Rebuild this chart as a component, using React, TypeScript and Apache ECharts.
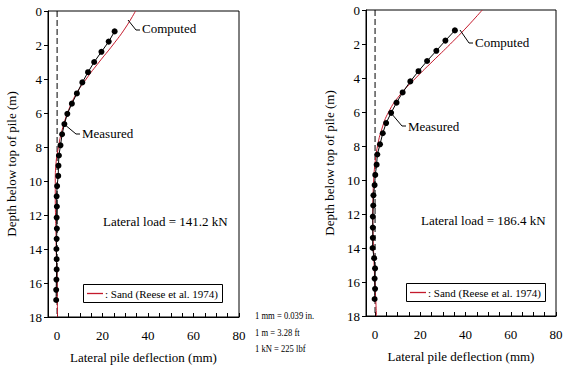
import React, { useEffect, useRef } from "react";
import * as echarts from "echarts";

const FONT = "Liberation Serif";

// Measured depths (m)
const measuredDepths = [1.2, 1.8, 2.4, 3.0, 3.6, 4.2, 4.85, 5.45, 6.05, 6.65, 7.25, 7.9, 8.5, 9.1, 9.7, 10.3, 10.9, 11.5, 12.15, 12.8, 13.4, 14.0, 14.6, 15.2, 15.8, 16.4, 17.0];
// Measured deflections (mm), 141.2 kN
const measuredLeft = [25.3, 22.7, 19.5, 16.3, 13.6, 11.1, 8.7, 6.5, 4.5, 3.2, 2.2, 1.5, 0.8, 0.6, 0.5, 0.0, -0.2, -0.1, -0.2, -0.1, -0.2, -0.3, -0.2, -0.2, -0.3, -0.4, -0.4];
// Measured deflections (mm), 186.4 kN
const measuredRight = [35.3, 31.1, 27.1, 23.0, 19.2, 15.6, 12.2, 9.5, 7.1, 4.9, 3.4, 2.2, 1.0, 0.7, 0.1, -0.2, -0.7, -0.8, -1.0, -1.0, -1.0, -1.1, -0.4, 0.0, -0.2, 0.0, -0.2];

// Computed curve depths (m)
const computedDepths = [0, 1, 2, 3, 4, 5, 6, 7, 8, 9, 10, 11, 12, 13, 14, 15, 16, 17, 18];
const computedLeft = [34.5, 30.0, 24.5, 18.5, 12.8, 7.9, 4.6, 2.2, 0.6, -0.5, -0.8, -0.8, -0.7, -0.5, -0.4, -0.2, 0.0, 0.1, 0.2];
const computedRight = [47.4, 40.6, 33.3, 25.6, 18.0, 11.0, 6.0, 3.0, 1.1, 0.0, -0.6, -0.9, -1.0, -0.9, -0.7, -0.4, -0.1, 0.3, 0.6];

const xLabelValues = [0, 20, 40, 60, 80];
const xTickValues = [0, 5, 10, 15, 20, 25, 30, 35, 40, 45, 50, 55, 60, 65, 70, 75, 80];
const zeroLine = [0, 18];

const legendText = ": Sand (Reese et al. 1974)";
const loadLeft = "Lateral load = 141.2 kN";
const loadRight = "Lateral load = 186.4 kN";
const units = ["1 mm = 0.039 in.", "1 m = 3.28 ft", "1 kN = 225 lbf"];

const RED = "#c41a2c";

function pairs(xs: number[], ys: number[]) {
  return xs.map((x, i) => [x, ys[i]]);
}

function xAxis(gridIndex: number) {
  return {
    type: "value",
    gridIndex,
    min: -4,
    max: 80,
    name: "Lateral pile deflection (mm)",
    nameLocation: "middle",
    nameGap: 34,
    nameTextStyle: { fontFamily: FONT, fontSize: 13, color: "#000" },
    axisLine: { show: true, onZero: false, lineStyle: { color: "#000", width: 1 } },
    axisTick: { show: true, inside: true, length: 4, customValues: xTickValues, lineStyle: { color: "#000" } },
    axisLabel: { customValues: xLabelValues, fontFamily: FONT, fontSize: 13, color: "#000", margin: 12 },
    splitLine: { show: false },
  };
}

function yAxis(gridIndex: number) {
  return {
    type: "value",
    gridIndex,
    inverse: true,
    min: 0,
    max: 18,
    interval: 2,
    name: "Depth below top of pile (m)",
    nameLocation: "middle",
    nameGap: 30,
    nameRotate: 90,
    nameTextStyle: { fontFamily: FONT, fontSize: 13, color: "#000" },
    axisLine: { show: true, onZero: false, lineStyle: { color: "#000", width: 1 } },
    axisTick: { show: true, inside: false, length: 4, lineStyle: { color: "#000" } },
    axisLabel: { fontFamily: FONT, fontSize: 13, color: "#000", margin: 6 },
    splitLine: { show: false },
  };
}

function seriesFor(idx: number, measured: number[], computed: number[]) {
  return [
    {
      name: "zero" + idx,
      type: "line",
      xAxisIndex: idx,
      yAxisIndex: idx,
      data: zeroLine.map((d) => [0, d]),
      symbol: "none",
      silent: true,
      lineStyle: { color: "#000", width: 1, type: [6, 3] },
    },
    {
      name: "Computed" + idx,
      type: "line",
      xAxisIndex: idx,
      yAxisIndex: idx,
      data: pairs(computed, computedDepths),
      symbol: "none",
      smooth: 0.5,
      lineStyle: { color: RED, width: 1 },
      itemStyle: { color: RED },
    },
    {
      name: "Measured" + idx,
      type: "line",
      xAxisIndex: idx,
      yAxisIndex: idx,
      data: pairs(measured, measuredDepths),
      symbol: "circle",
      symbolSize: 6,
      lineStyle: { color: "#000", width: 1 },
      itemStyle: { color: "#000" },
    },
  ];
}

function text(id: string, str: string, x: number, y: number, size = 13, scaleX = 1) {
  return {
    id,
    type: "text",
    x,
    y,
    scaleX,
    z: 100,
    style: { text: str, fontFamily: FONT, fontSize: size, fill: "#000", verticalAlign: "middle", align: "left" },
  };
}

function leader(id: string, points: number[][]) {
  return {
    id,
    type: "polyline",
    z: 100,
    shape: { points },
    style: { stroke: "#000", lineWidth: 1, fill: null },
  };
}

function legendBox(id: string, x: number, y: number) {
  return [
    { id: id + "-box", type: "rect", z: 100, shape: { x: x + 0.5, y: y + 0.5, width: 139, height: 18 }, style: { fill: "#fff", stroke: "#000", lineWidth: 1 } },
    { id: id + "-line", type: "line", z: 102, shape: { x1: x + 4, y1: y + 9.5, x2: x + 20, y2: y + 9.5 }, style: { stroke: RED, lineWidth: 1.3 } },
    { id: id + "-text", type: "text", z: 101, x: x + 22, y: y + 9.5, style: { text: legendText, fontFamily: FONT, fontSize: 11, fill: "#000", verticalAlign: "middle", align: "left" } },
  ];
}

export default function App() {
  const ref = useRef<HTMLDivElement>(null);
  useEffect(() => {
    if (!ref.current) return;
    const chart = echarts.init(ref.current, null, { renderer: "svg" });
    chart.setOption({
      animation: false,
      backgroundColor: "#fff",
      textStyle: { fontFamily: FONT },
      grid: [
        { left: 48, top: 11, width: 191, height: 306, show: true, borderColor: "#000", borderWidth: 1, backgroundColor: "transparent" },
        { left: 366, top: 10, width: 190, height: 306, show: true, borderColor: "#000", borderWidth: 1, backgroundColor: "transparent" },
      ],
      xAxis: [xAxis(0), xAxis(1)],
      yAxis: [yAxis(0), yAxis(1)],
      series: [...seriesFor(0, measuredLeft, computedLeft), ...seriesFor(1, measuredRight, computedRight)],
      graphic: [
        ...legendBox("legL", 83, 284),
        ...legendBox("legR", 406, 283),
        leader("l1", [[128, 20], [136, 30], [140, 30]]),
        text("t1", "Computed", 142, 28),
        leader("l2", [[64, 124], [76, 134], [80, 134]]),
        text("t2", "Measured", 82, 133),
        leader("l3", [[460, 30], [469, 43], [473, 43]]),
        text("t3", "Computed", 475, 42),
        leader("l4", [[391, 113], [402, 126], [406, 126]]),
        text("t4", "Measured", 408, 126),
        text("t5", loadLeft, 103, 221),
        text("t6", loadRight, 421, 220),
        text("u1", units[0], 255, 315, 11, 0.78),
        text("u2", units[1], 255, 332, 11, 0.78),
        text("u3", units[2], 255, 348, 11, 0.78),
      ],
    });
    return () => chart.dispose();
  }, []);
  return <div ref={ref} style={{ position: "fixed", left: 0, top: 0, width: 567, height: 371 }} />;
}
